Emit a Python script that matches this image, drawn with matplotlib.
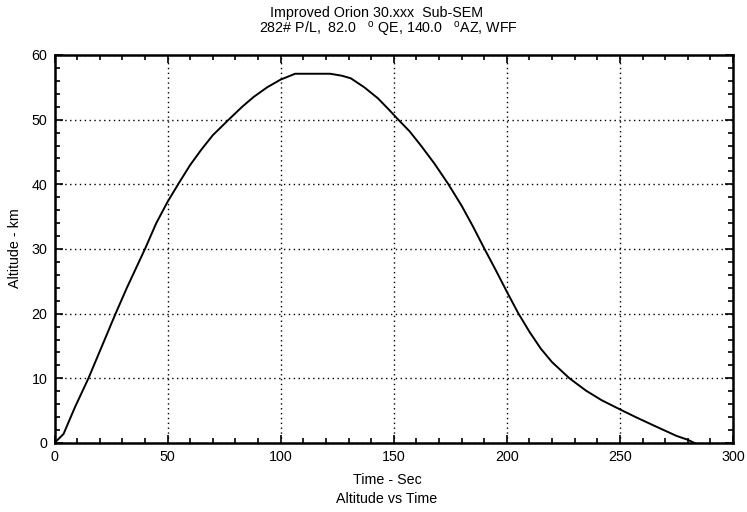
import matplotlib
matplotlib.use("Agg")
import matplotlib.pyplot as plt
from matplotlib.ticker import MultipleLocator

plt.rcParams['font.family'] = ['Liberation Sans', 'DejaVu Sans']
plt.rcParams['mathtext.fontset'] = 'custom'
plt.rcParams['mathtext.rm'] = 'Liberation Sans'

time_s = [0, 4, 9, 15, 21, 27, 32, 40, 45, 50, 55, 60, 65, 70, 77, 83, 88, 94,
          100, 106.4, 114, 121.9, 127, 131, 137, 143, 148, 152, 157, 162, 168,
          174, 180, 185, 190, 195, 200, 205, 210, 215, 220, 227.7, 235, 242,
          250, 257, 265, 270, 275, 280, 283]
alt_km = [0, 1.4, 5.5, 10, 15, 20, 24, 30, 34, 37.3, 40.2, 43, 45.4, 47.6, 50,
          52, 53.5, 55, 56.2, 57.1, 57.1, 57.1, 56.8, 56.4, 55, 53.3, 51.5, 50,
          48.2, 46, 43.2, 40.1, 36.7, 33.5, 30.1, 26.8, 23.4, 20.1, 17.2, 14.6,
          12.5, 10, 8.1, 6.6, 5.2, 4.0, 2.7, 1.9, 1.1, 0.5, 0]

title1 = "Improved Orion 30.xxx  Sub-SEM"
title2 = r"282# P/L,  82.0   $^{\rm o}$ QE, 140.0   $^{\rm o}$AZ, WFF"
xlabel = "Time - Sec"
ylabel = "Altitude - km"
subtitle = "Altitude vs Time"

W, H = 747, 512
fig = plt.figure(figsize=(W / 100, H / 100), dpi=100)
ax = fig.add_axes([54.5 / W, 1 - 443 / H, (733 - 54.5) / W, (443 - 55) / H])

ax.plot(time_s, alt_km, color='black', lw=1.4)

ax.set_xlim(0, 300)
ax.set_ylim(0, 60)
ax.xaxis.set_major_locator(MultipleLocator(50))
ax.xaxis.set_minor_locator(MultipleLocator(10))
ax.yaxis.set_major_locator(MultipleLocator(10))
ax.yaxis.set_minor_locator(MultipleLocator(2))
ax.grid(True, which='major', color='black', linestyle=(0, (1, 2.5)), lw=1.0)
ax.tick_params(which='both', direction='in', top=True, right=True, labelsize=10.3, color='black')
ax.tick_params(which='major', length=6, width=1.2, pad=5)
ax.tick_params(which='minor', length=3.5, width=1.2)
for s in ax.spines.values():
    s.set_linewidth(1.8)

fig.text(387 / W, 1 - 480 / H, xlabel, ha='center', va='center', fontsize=10.3)
fig.text(387 / W, 1 - 499 / H, subtitle, ha='center', va='center', fontsize=10.3)
fig.text(15 / W, 1 - 248 / H, ylabel, ha='center', va='center', rotation=90, fontsize=10.3)
fig.text(376 / W, 1 - 13 / H, title1, ha='center', va='center', fontsize=10.3)
fig.text(389 / W, 1 - 29 / H, title2, ha='center', va='center', fontsize=10.3)

fig.savefig("out.png", dpi=100)
